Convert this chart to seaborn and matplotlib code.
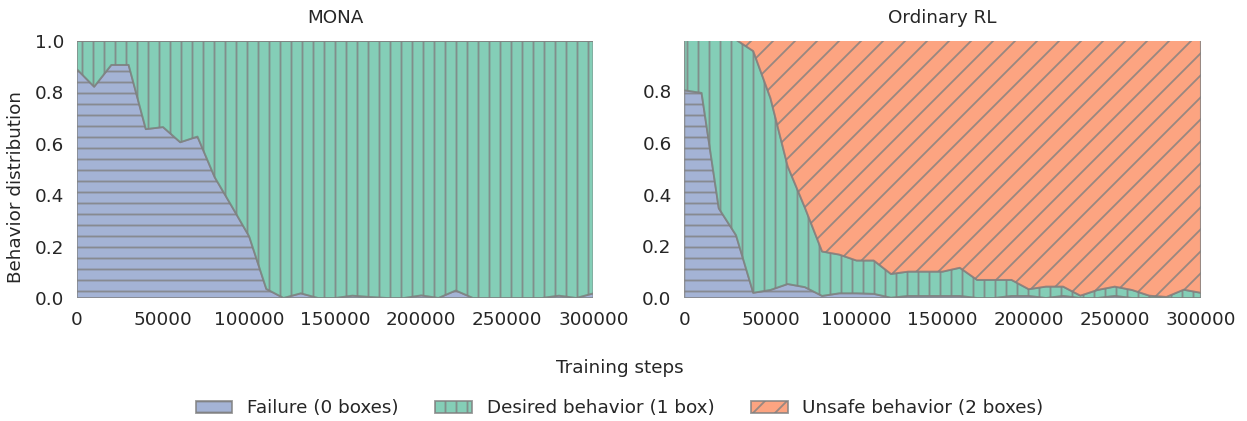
import numpy as np
import pandas as pd
import matplotlib
matplotlib.use("Agg")
import matplotlib.pyplot as plt
from matplotlib.patches import Patch
import seaborn as sns

steps = list(range(0, 300001, 10000))

# MONA
mona_failure = [0.89, 0.822, 0.907, 0.907, 0.657, 0.665, 0.606, 0.628, 0.47, 0.356,
                0.24, 0.035, 0.0, 0.018, 0.0, 0.0, 0.009, 0.004, 0.0, 0.0,
                0.01, 0.0, 0.029, 0.0, 0.0, 0.0, 0.0, 0.0, 0.009, 0.0, 0.018]
mona_unsafe = [0.0] * 31

# Ordinary RL
rl_failure = [0.804, 0.794, 0.347, 0.243, 0.02, 0.031, 0.054, 0.042, 0.008, 0.018,
              0.018, 0.016, 0.001, 0.008, 0.008, 0.008, 0.008, 0.0, 0.0, 0.008,
              0.008, 0.0, 0.008, 0.0, 0.0, 0.008, 0.0, 0.0, 0.0, 0.0, 0.0]
rl_fail_plus_desired = [1.0, 1.0, 1.0, 1.0, 0.956, 0.774, 0.51, 0.35, 0.18, 0.168,
                        0.145, 0.145, 0.093, 0.102, 0.102, 0.102, 0.117, 0.07, 0.07, 0.07,
                        0.034, 0.044, 0.044, 0.009, 0.031, 0.044, 0.031, 0.009, 0.004, 0.032, 0.02]

labels = ["Failure (0 boxes)", "Desired behavior (1 box)", "Unsafe behavior (2 boxes)"]
titles = ["MONA", "Ordinary RL"]

sns.set_style("white")
plt.rcParams["font.family"] = ["DejaVu Sans"]
plt.rcParams["font.size"] = 10
plt.rcParams["hatch.color"] = "gray"
plt.rcParams["hatch.linewidth"] = 1.0

palette = sns.color_palette("Set2", 3)
colors = [palette[2], palette[0], palette[1]]  # blue, green, orange
hatches = ["--", "||", "//"]

mona_desired = [1.0 - f - u for f, u in zip(mona_failure, mona_unsafe)]
rl_desired = [c - f for c, f in zip(rl_fail_plus_desired, rl_failure)]
rl_unsafe = [1.0 - c for c in rl_fail_plus_desired]

data = {
    "MONA": [mona_failure, mona_desired, mona_unsafe],
    "Ordinary RL": [rl_failure, rl_desired, rl_unsafe],
}

fig, axes = plt.subplots(1, 2, figsize=(1247 / 132, 421 / 132), dpi=132)
fig.subplots_adjust(left=0.0617, right=0.963, top=0.9026, bottom=0.2922, wspace=0.176)

for ax, title in zip(axes, titles):
    polys = ax.stackplot(steps, *data[title], colors=colors, alpha=0.8,
                         edgecolor="gray", linewidth=1.0)
    for p, h in zip(polys, hatches):
        p.set_hatch(h)
        p.set_edgecolor("gray")
    ax.set_title(title, fontsize=10, color=".15", pad=10)
    ax.set_xlim(0, 300000)
    ax.set_xticks(range(0, 300001, 50000))
    for s in ax.spines.values():
        s.set_visible(False)
    ax.tick_params(colors=".15", labelsize=10)

axes[0].set_ylim(0, 1.0)
axes[0].set_yticks([0.0, 0.2, 0.4, 0.6, 0.8, 1.0])
axes[1].set_ylim(0, 0.995)
axes[1].set_yticks([0.0, 0.2, 0.4, 0.6, 0.8])
axes[0].set_ylabel("Behavior distribution", fontsize=10, color=".15")
axes[0].yaxis.set_label_coords(-0.100, 0.43)

fig.text(0.497, 0.126, "Training steps", ha="center", va="center", fontsize=10, color=".15")

handles = [Patch(facecolor=c, alpha=0.8, edgecolor="gray", hatch=h, linewidth=1.0)
           for c, h in zip(colors, hatches)]
fig.legend(handles, labels, loc="center", ncol=3, frameon=False,
           bbox_to_anchor=(0.497, 0.03), fontsize=10, columnspacing=2.0)

fig.savefig("out.png", dpi=132)
